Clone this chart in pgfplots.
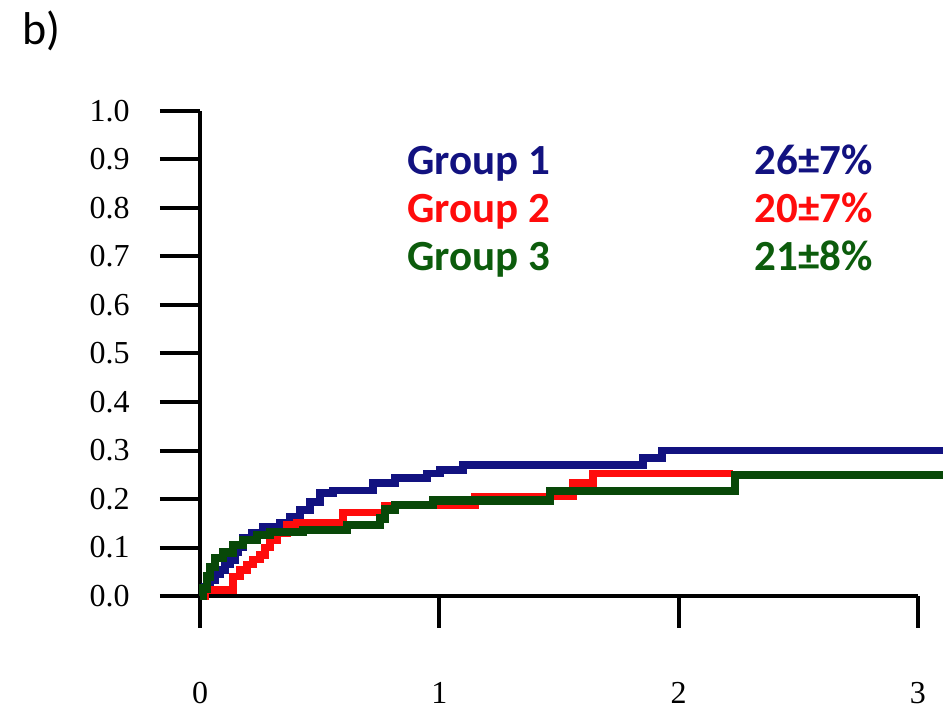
\documentclass[border=0pt]{standalone}
\usepackage{pgfplots}
\pgfplotsset{compat=1.18}
\usepackage{fontspec}
\setmainfont{Liberation Serif}
\newfontfamily\calibri{Carlito}
\definecolor{gblue}{RGB}{18,18,128}
\definecolor{gred}{RGB}{255,12,12}
\definecolor{ggreen}{RGB}{8,72,8}
\definecolor{tgreen}{RGB}{12,92,12}
\begin{document}
\begin{tikzpicture}[x=1pt,y=1pt]
\useasboundingbox (0,0) rectangle (948,713);
\begin{axis}[
  at={(200pt,117pt)}, anchor=origin,
  x=239.33pt, y=485pt,
  xmin=0, xmax=3, ymin=0, ymax=1,
  clip=false,
  axis x line*=bottom, axis y line*=left,
  axis line style={line width=4pt, black},
  every tick/.style={black, line width=4pt},
  tick align=outside,
  xtick style={/pgfplots/major tick length=32pt},
  ytick style={/pgfplots/major tick length=40pt},
  xtick={0,1,2,3}, xticklabels={0,1,2,3},
  ytick={0,0.1,0.2,0.3,0.4,0.5,0.6,0.7,0.8,0.9,1},
  yticklabels={0.0,0.1,0.2,0.3,0.4,0.5,0.6,0.7,0.8,0.9,1.0},
  /pgf/number format/assume math mode=true,
  ticklabel style={font=\fontsize{32}{32}\selectfont, inner sep=0pt},
  yticklabel style={anchor=east, xshift=-66pt},
  xticklabel style={anchor=base, yshift=-103pt},
  minor tick num=0,
]
\addplot[const plot, color=gblue, line width=7.5pt] coordinates {
(0,0) (0.021,0.02) (0.042,0.033) (0.063,0.045) (0.084,0.054) (0.104,0.065)
(0.125,0.074) (0.146,0.09) (0.159,0.10) (0.180,0.12) (0.217,0.13) (0.263,0.142)
(0.334,0.152) (0.376,0.163) (0.418,0.177) (0.460,0.194) (0.501,0.212) (0.556,0.218)
(0.723,0.233) (0.815,0.243) (0.949,0.253) (1.003,0.26) (1.099,0.27) (1.851,0.285)
(1.931,0.30) (3.105,0.30)};
\addplot[const plot, color=gred, line width=7.5pt] coordinates {
(0,0) (0.021,0.012) (0.138,0.04) (0.167,0.054) (0.196,0.065) (0.221,0.075)
(0.251,0.085) (0.272,0.10) (0.293,0.115) (0.322,0.13) (0.364,0.146) (0.405,0.152)
(0.598,0.172) (0.773,0.187) (1.149,0.205) (1.559,0.233) (1.642,0.253) (2.227,0.253)};
\addplot[const plot, color=ggreen, line width=8.5pt] coordinates {
(0,0) (0.013,0.015) (0.029,0.04) (0.042,0.06) (0.063,0.078) (0.096,0.09)
(0.138,0.105) (0.180,0.115) (0.238,0.126) (0.293,0.132) (0.430,0.136) (0.614,0.146)
(0.752,0.16) (0.773,0.178) (0.815,0.188) (0.974,0.197) (1.463,0.216) (2.236,0.25)
(3.105,0.25)};
\end{axis}
\node[anchor=base west, inner sep=0pt, font=\calibri\fontsize{46}{46}\selectfont] at (22,668) {b)};
\begin{scope}[every node/.style={inner sep=0pt, font=\calibri\bfseries\fontsize{43}{43}\selectfont}]
\node[anchor=base west, text=gblue] at (407,538) {Group 1};
\node[anchor=base west, text=gred] at (407,490) {Group 2};
\node[anchor=base west, text=tgreen] at (407,442) {Group 3};
\node[anchor=base east, text=gblue] at (873,538) {26±7\%};
\node[anchor=base east, text=gred] at (873,490) {20±7\%};
\node[anchor=base east, text=tgreen] at (873,442) {21±8\%};
\end{scope}
\end{tikzpicture}
\end{document}
